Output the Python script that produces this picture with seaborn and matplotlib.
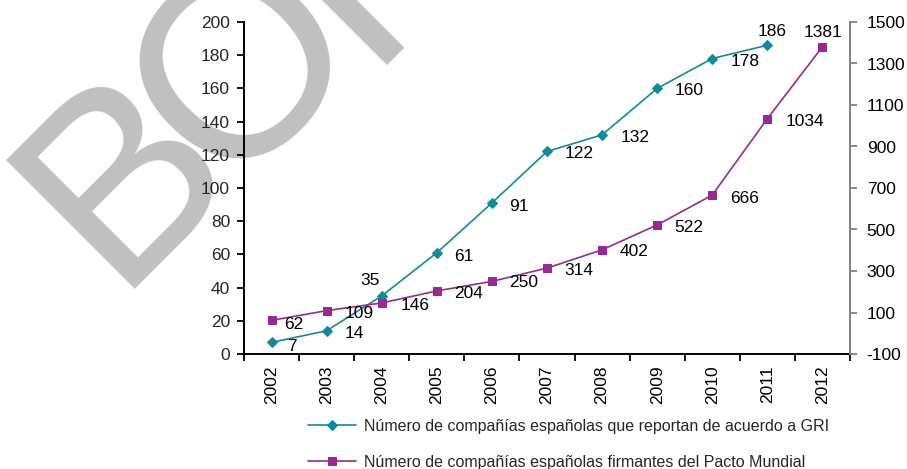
import numpy as np
import pandas as pd
import matplotlib
matplotlib.use("Agg")
import matplotlib.pyplot as plt
import seaborn as sns

# data
years = [2002, 2003, 2004, 2005, 2006, 2007, 2008, 2009, 2010, 2011, 2012]
gri_years = years[:10]
gri_counts = [7, 14, 35, 61, 91, 122, 132, 160, 178, 186]
pacto_counts = [62, 109, 146, 204, 250, 314, 402, 522, 666, 1034, 1381]
gri_label = "Número de compañías españolas que reportan de acuerdo a GRI"
pacto_label = "Número de compañías españolas firmantes del Pacto Mundial"
left_ticks = list(range(0, 201, 20))
right_ticks = list(range(-100, 1501, 200))
watermark = ["B", "O", "RRADOR"]

# label placement (dx px, dy px of visual centre, downwards, alignment)
gri_offsets = [(15.5, 3, "left"), (17.7, 1.5, "left"), (-12, -17, "center"),
               (17.7, 2, "left"), (17.4, 2, "left"), (17.7, 1, "left"),
               (18.4, 1, "left"), (17, 1, "left"), (18.4, 1, "left"),
               (5, -15.5, "center")]
pacto_offsets = [(12.3, 2.7, "left"), (18.3, 1.7, "left"), (18.4, 1, "left"),
                 (17.7, 1, "left"), (17.4, 0, "left"), (17.7, 0.7, "left"),
                 (17.7, 0, "left"), (17, 1.3, "left"), (17.4, 1.7, "left"),
                 (18.4, 1, "left"), (0.7, -15.6, "center")]

teal = "#13899A"
purple = "#952B8F"

sns.set_style("ticks")
plt.rcParams["font.family"] = ["Liberation Sans", "DejaVu Sans"]
plt.rcParams["axes.unicode_minus"] = False

W, H = 907, 469
fig, ax = plt.subplots(figsize=(W / 100, H / 100), dpi=100)
fig.subplots_adjust(left=244 / W, right=850 / W, bottom=(H - 354) / H, top=(H - 22) / H)
ax.set_facecolor("none")

# watermark behind the chart (letters placed along a 45 degree baseline)
wm_kw = dict(rotation=45, rotation_mode="anchor", va="baseline", fontsize=190,
             color="#c0c0c0", zorder=-5)
fig.text(175.7 / W, (H - 226.3) / H, watermark[0], ha="center", **wm_kw)
fig.text(296 / W, (H - 118) / H, watermark[1], ha="center", **wm_kw)
fig.text(365 / W, (H - 65) / H, watermark[2], ha="left", **wm_kw)

ax2 = ax.twinx()

gri_df = pd.DataFrame({"year": gri_years, "n": gri_counts})
pacto_df = pd.DataFrame({"year": years, "n": pacto_counts})

sns.lineplot(data=gri_df, x="year", y="n", ax=ax, color=teal, marker="D",
             markersize=5, markeredgecolor=teal, linewidth=1.2, label=gri_label)
sns.lineplot(data=pacto_df, x="year", y="n", ax=ax2, color=purple, marker="s",
             markersize=6, markeredgecolor=purple, linewidth=1.2, label=pacto_label)

ax.set_xlim(2001.5, 2012.5)
ax.set_ylim(0, 200)
ax2.set_ylim(-100, 1500)
ax.set_yticks(left_ticks)
ax2.set_yticks(right_ticks)
ax.set_xticks(years)
ax.set_xticklabels([str(y) for y in years], rotation=90)
ax.set_xticks(np.arange(2001.5, 2013, 1), minor=True)
ax.set_xlabel("")
ax.set_ylabel("")
ax2.set_ylabel("")

ax.tick_params(axis="x", which="major", length=0, pad=8, labelsize=12.5, colors="black")
ax.tick_params(axis="x", which="minor", length=5, width=1.3, direction="out", color="black")
ax.tick_params(axis="y", length=5, width=1.3, direction="out", pad=5, labelsize=12.5, color="black")
ax2.tick_params(axis="y", length=5, width=1.3, direction="out", pad=7, labelsize=12.5,
                color="#808080", labelcolor="black")

for s in ["top", "right"]:
    ax.spines[s].set_visible(False)
for s in ["top", "left", "bottom"]:
    ax2.spines[s].set_visible(False)
ax.spines["left"].set_linewidth(1.4)
ax.spines["bottom"].set_linewidth(1.4)
ax.spines["left"].set_color("black")
ax.spines["bottom"].set_color("black")
ax2.spines["right"].set_color("#808080")
ax2.spines["right"].set_linewidth(1.4)

# data labels
def add_labels(axis, xs, ys, offsets):
    for x, y, (dx, dy, ha) in zip(xs, ys, offsets):
        axis.annotate(str(y), (x, y), xytext=(dx * 0.72, -(dy + 6) * 0.72),
                      textcoords="offset points", ha=ha, va="baseline", fontsize=12.5,
                      color="black")

add_labels(ax, gri_years, gri_counts, gri_offsets)
add_labels(ax2, years, pacto_counts, pacto_offsets)

h1, l1 = ax.get_legend_handles_labels()
h2, l2 = ax2.get_legend_handles_labels()
ax.get_legend().remove()
ax2.get_legend().remove()
fig.legend(h1 + h2, l1 + l2, loc="upper left", bbox_to_anchor=(308 / W, 1 - 419 / H),
           frameon=False, fontsize=11.5, handlelength=3.0, handletextpad=0.5,
           labelspacing=1.3, borderpad=0, borderaxespad=0)

fig.savefig("out.png", dpi=100)
